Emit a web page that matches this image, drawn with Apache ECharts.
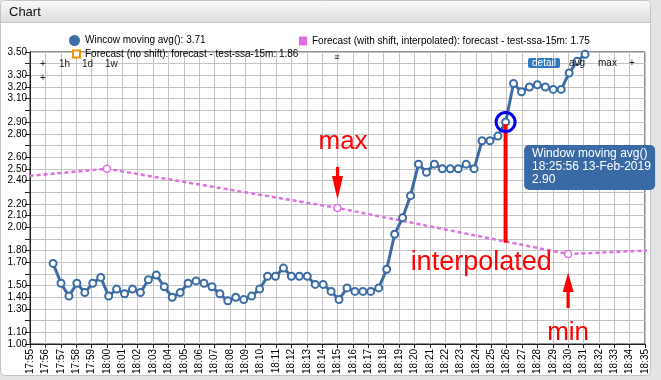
<!DOCTYPE html>
<html>
<head>
<meta charset="utf-8">
<script src="https://cdn.jsdelivr.net/npm/echarts@6/dist/echarts.min.js"></script>
<style>
html,body{margin:0;padding:0;background:#e4e4e4;}
#c{width:661px;height:380px;}
</style>
</head>
<body>
<div id="c"></div>
<script>
// ---- data ----
const avgTimes = ['17:56:30','17:57:01','17:57:32','17:58:03','17:58:34','17:59:05','17:59:36','18:00:07','18:00:38','18:01:09',
  '18:01:40','18:02:11','18:02:42','18:03:13','18:03:44','18:04:15','18:04:46','18:05:17','18:05:48','18:06:19',
  '18:06:50','18:07:21','18:07:52','18:08:23','18:08:54','18:09:25','18:09:56','18:10:27','18:10:58','18:11:29',
  '18:12:00','18:12:31','18:13:02','18:13:33','18:14:04','18:14:35','18:15:06','18:15:37','18:16:08','18:16:39',
  '18:17:10','18:17:41','18:18:12','18:18:43','18:19:14','18:19:45','18:20:16','18:20:47','18:21:18','18:21:49',
  '18:22:20','18:22:51','18:23:22','18:23:53','18:24:24','18:24:55','18:25:26','18:25:56','18:26:27','18:26:58',
  '18:27:29','18:28:00','18:28:31','18:29:02','18:29:33','18:30:04','18:30:35','18:31:06','18:31:37'];
const avgValues = [1.69,1.52,1.41,1.52,1.44,1.52,1.57,1.41,1.47,1.43,
  1.47,1.44,1.55,1.59,1.49,1.40,1.44,1.52,1.54,1.52,
  1.49,1.43,1.37,1.40,1.38,1.41,1.47,1.58,1.58,1.65,
  1.58,1.58,1.58,1.51,1.51,1.45,1.38,1.48,1.45,1.45,
  1.45,1.48,1.64,1.94,2.08,2.27,2.54,2.47,2.54,2.50,
  2.50,2.50,2.54,2.50,2.74,2.74,2.78,2.90,3.23,3.16,
  3.20,3.22,3.20,3.18,3.18,3.32,3.42,3.48,3.71];
const fcTimes = ['17:45:00','18:00:00','18:15:00','18:30:00','18:45:00'];
const fcValues = [2.32,2.50,2.165,1.77,1.86];
const noShiftTimes = [];
const noShiftValues = [];
const seriesNames = ['Wincow moving avg()','Forecast (with shift, interpolated): forecast - test-ssa-15m','Forecast (no shift): forecast - test-ssa-15m'];
const legendValues = ['3.71','1.75','1.86'];
const yLabels = ['1.00','1.10','1.30','1.40','1.50','1.70','1.80','2.00','2.10','2.20','2.40','2.50','2.60','2.80','2.90','3.10','3.20','3.30','3.50'];
const xStart = '17:55:00', xEnd = '18:35:00';
const highlightTime = '18:25:56', highlightValue = 2.90, interpTime = '18:26:00';
const tooltipLines = ['Window moving avg()','18:25:56 13-Feb-2019','2.90'];

// ---- helpers ----
const DAY = Date.UTC(2019,1,13);
function toMs(s){const p=s.split(':').map(Number);return DAY+((p[0]*60+p[1])*60+p[2])*1000;}
function pad(n){return (n<10?'0':'')+n;}
const FONT = '"Liberation Sans", Arial, Helvetica, sans-serif';

const chart = echarts.init(document.getElementById('c'), null, {renderer:'canvas'});
const legendFmt = name => name + ': ' + legendValues[seriesNames.indexOf(name)];

const option = {
  animation:false,
  textStyle:{fontFamily:FONT},
  grid:{left:30,right:16,top:52,bottom:36,show:true,borderColor:'#222',borderWidth:1,backgroundColor:'transparent'},
  legend:[
    {left:69,top:35,padding:0,selectedMode:false,data:[seriesNames[0]],icon:'circle',itemWidth:11,itemHeight:11,
     itemStyle:{color:'#3d6ea6',borderWidth:0},textStyle:{fontSize:10,color:'#000',fontFamily:FONT},formatter:legendFmt},
    {left:299,top:36,padding:0,selectedMode:false,data:[seriesNames[1]],icon:'rect',itemWidth:8,itemHeight:9,
     itemStyle:{color:'#e36ce6',borderWidth:0},textStyle:{fontSize:10,color:'#000',fontFamily:FONT},formatter:legendFmt},
    {left:72,top:49,padding:0,selectedMode:false,data:[seriesNames[2]],icon:'rect',itemWidth:7,itemHeight:7,
     itemStyle:{color:'#fff',borderColor:'#f39200',borderWidth:2},textStyle:{fontSize:10,color:'#000',fontFamily:FONT},formatter:legendFmt}
  ],
  xAxis:{type:'value',min:toMs(xStart),max:toMs(xEnd),interval:60000,
    axisLine:{lineStyle:{color:'#222'}},axisTick:{length:4,lineStyle:{color:'#222'}},
    splitLine:{show:true,lineStyle:{color:'#c4c4c4',width:1}},
    axisLabel:{rotate:90,fontSize:10,color:'#000',margin:5,fontFamily:FONT,
      formatter:v=>{const d=new Date(v);return pad(d.getUTCHours())+':'+pad(d.getUTCMinutes());}}},
  yAxis:{type:'value',min:1,max:3.5,interval:0.1,
    axisLine:{show:true,lineStyle:{color:'#222'}},axisTick:{show:true,length:5,lineStyle:{color:'#222'}},
    splitLine:{show:true,lineStyle:{color:'#c4c4c4',width:1}},
    axisLabel:{fontSize:10,color:'#000',margin:3,fontFamily:FONT,
      formatter:v=>{const s=(Math.round(v*100)/100).toFixed(2);return yLabels.indexOf(s)>=0?s:'';}}},
  series:[
    {name:seriesNames[1],type:'line',z:2,data:fcTimes.map((t,i)=>[toMs(t),fcValues[i]]),
     symbol:'circle',symbolSize:7,itemStyle:{color:'#fff',borderColor:'#e070e0',borderWidth:1.5},
     lineStyle:{color:'#e070e0',width:2.5,type:[4,3]},clip:true},
    {name:seriesNames[0],type:'line',z:3,data:avgTimes.map((t,i)=>[toMs(t),avgValues[i]]),
     symbol:'circle',symbolSize:7,itemStyle:{color:'#fff',borderColor:'#3b6ca6',borderWidth:2},
     lineStyle:{color:'#3b6ca6',width:3},clip:true},
    {name:seriesNames[2],type:'line',data:noShiftTimes.map((t,i)=>[toMs(t),noShiftValues[i]]),
     itemStyle:{color:'#f39200'},lineStyle:{color:'#f39200'}}
  ]
};
chart.setOption(option);

// ---- overlays anchored to data positions ----
function px(t,v){return chart.convertToPixel({gridIndex:0},[toMs(t),v]);}
const hp = px(highlightTime, highlightValue);
const ti = toMs(interpTime); let iv = fcValues[0];
for(let i=0;i<fcTimes.length-1;i++){const a=toMs(fcTimes[i]),b=toMs(fcTimes[i+1]);
  if(ti>=a&&ti<=b){iv=fcValues[i]+(fcValues[i+1]-fcValues[i])*(ti-a)/(b-a);}}
const ip = px(interpTime, iv);
const maxIdx = 2, minIdx = 3;
const mp = px(fcTimes[maxIdx], fcValues[maxIdx]);
const np = px(fcTimes[minIdx], fcValues[minIdx]);
const RED = '#ff0000';
const txt = (x,y,s,size,fill,align,va)=>({type:'text',z:100,style:{text:s,x:x,y:y,fill:fill||'#111',font:(size||10)+'px '+FONT,textAlign:align||'left',textVerticalAlign:va||'middle'}});

const gfx = [
  {type:'rect',z:-20,shape:{x:0,y:0,width:661,height:380},style:{fill:'#e4e4e4'}},
  {type:'rect',z:-19,shape:{x:0.5,y:0.5,width:650,height:375,r:4},style:{fill:'#fff',stroke:'#c4c4c4',lineWidth:1}},
  {type:'rect',z:-18,shape:{x:1,y:1,width:649,height:21,r:[4,4,0,0]},
   style:{fill:new echarts.graphic.LinearGradient(0,0,0,1,[{offset:0,color:'#f8f8f8'},{offset:1,color:'#dedede'}])}},
  {type:'line',z:-17,shape:{x1:1,y1:22.5,x2:650,y2:22.5},style:{stroke:'#c4c4c4',lineWidth:1}},
  txt(9,12.5,'Chart',13,'#111'),
  txt(43,64,'+',10,'#222','center'), txt(43,78,'+',10,'#222','center'),
  txt(59,64,'1h',10,'#222'), txt(82,64,'1d',10,'#222'), txt(105,64,'1w',10,'#222'),
  txt(337,58,'\u2261',9,'#222','center'),
  {type:'rect',z:100,shape:{x:528,y:58,width:32,height:10,r:2},style:{fill:'#2f7bbf'}},
  txt(544,63,'detail',10,'#fff','center'),
  txt(569,63,'avg',10,'#111'), txt(598,63,'max',10,'#111'), txt(632,63,'+',10,'#111','center'),
  {type:'rect',z:100,shape:{x:hp[0]-2,y:hp[1]+2,width:4,height:ip[1]-hp[1]-1},style:{fill:RED}},
  {type:'circle',z:101,shape:{cx:hp[0],cy:hp[1],r:9.5},style:{fill:'none',stroke:'#0000ee',lineWidth:3}},
  txt(mp[0]-19,mp[1]-66,'max',26,RED),
  {type:'rect',z:100,shape:{x:mp[0]-1.6,y:mp[1]-41,width:3.2,height:14},style:{fill:RED}},
  {type:'polygon',z:100,shape:{points:[[mp[0]-5.5,mp[1]-32],[mp[0]+5.5,mp[1]-32],[mp[0],mp[1]-8.5]]},style:{fill:RED}},
  txt(ip[0]-96,ip[1]+21,'interpolated',27,RED),
  txt(np[0]-21,np[1]+79,'min',26,RED),
  {type:'polygon',z:100,shape:{points:[[np[0]-5.5,np[1]+38],[np[0]+5.5,np[1]+38],[np[0],np[1]+18.5]]},style:{fill:RED}},
  {type:'rect',z:100,shape:{x:np[0]-1.6,y:np[1]+35,width:3.2,height:19},style:{fill:RED}},
  {type:'rect',z:100,shape:{x:hp[0]+18.5,y:hp[1]+23,width:131,height:45,r:5},style:{fill:'#3a6aa5'}},
  txt(hp[0]+26.5,hp[1]+32,tooltipLines[0],12,'#fff'),
  txt(hp[0]+26.5,hp[1]+45,tooltipLines[1],12,'#fff'),
  txt(hp[0]+26.5,hp[1]+58,tooltipLines[2],12,'#fff')
];
chart.setOption({graphic:{elements:gfx}});
</script>
</body>
</html>
